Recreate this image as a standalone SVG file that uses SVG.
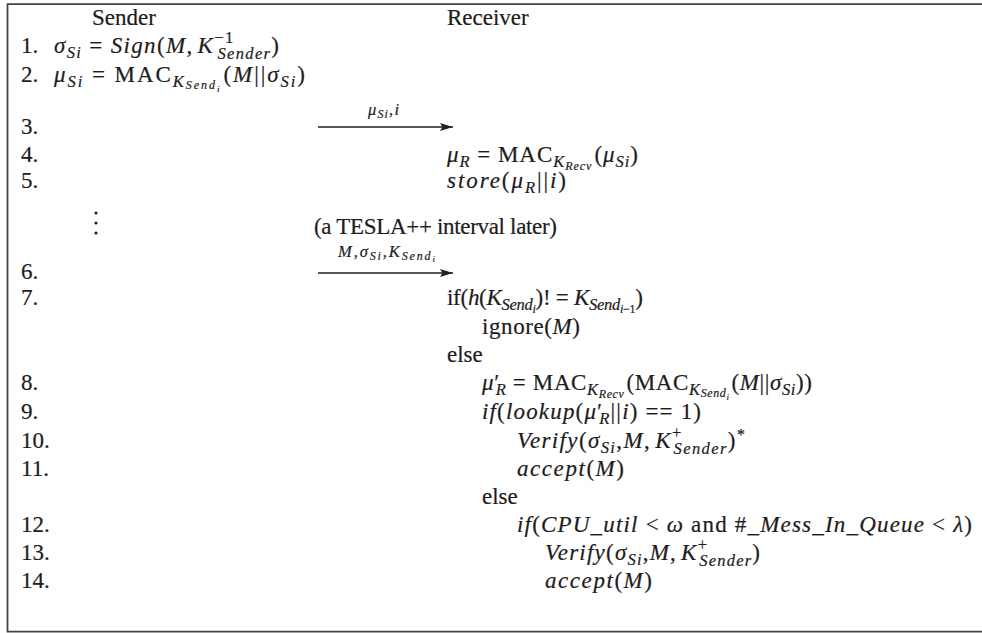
<svg xmlns="http://www.w3.org/2000/svg" width="982" height="633" viewBox="0 0 982 633">
<defs>
<style>
text{font-family:"Liberation Serif","Times New Roman",serif;font-size:23px;fill:#1e1c1d;stroke:#1e1c1d;stroke-width:0.2}
.i{font-style:italic}
.s{font-size:16.5px}
.ss{font-size:12px}
.sss{font-size:9px}
.lbl{font-size:16.5px}
.conn{stroke:#231f20;stroke-width:1.4;fill:none}
</style>
<marker id="ah" markerUnits="userSpaceOnUse" markerWidth="14" markerHeight="10" refX="13" refY="4" orient="auto">
<path d="M0,0 L13,4 L0,8 L2.5,4 Z" fill="#231f20"/>
</marker>
</defs>
<rect width="982" height="633" fill="#ffffff"/>
<path d="M982,4.2 H7.5 V631.7 H982" fill="none" stroke="#444" stroke-width="1.8"/>

<g id="header">
<text x="92" y="25">Sender</text>
<text x="447" y="25">Receiver</text>
</g>

<g id="line-numbers">
<text x="21" y="53">1.</text>
<text x="21" y="82">2.</text>
<text x="21" y="134">3.</text>
<text x="21" y="162">4.</text>
<text x="21" y="188">5.</text>
<text x="21" y="279">6.</text>
<text x="21" y="305">7.</text>
<text x="21" y="390">8.</text>
<text x="21" y="419">9.</text>
<text x="21" y="448">10.</text>
<text x="21" y="476">11.</text>
<text x="21" y="532">12.</text>
<text x="21" y="560">13.</text>
<text x="21" y="588">14.</text>
</g>

<g id="sender-steps">
<text x="54" y="53" textLength="225" lengthAdjust="spacing"><tspan class="i">σ</tspan><tspan class="i s" dy="5">Si</tspan><tspan dy="-5"> = </tspan><tspan class="i">Sign</tspan>(<tspan class="i">M</tspan>,<tspan class="i" dx="4">K</tspan><tspan class="s" dy="-10">−1</tspan><tspan class="i s" dx="-17" dy="16">Sender</tspan><tspan dy="-6">)</tspan></text>
<text x="54" y="82" textLength="251" lengthAdjust="spacing"><tspan class="i">μ</tspan><tspan class="i s" dy="5">Si</tspan><tspan dy="-5"> = MAC</tspan><tspan class="i s" dy="5">K</tspan><tspan class="i ss" dy="2">Send</tspan><tspan class="i sss" dy="3">i</tspan><tspan dy="-10" dx="2">(</tspan><tspan class="i">M</tspan>||<tspan class="i">σ</tspan><tspan class="i s" dy="5">Si</tspan><tspan dy="-5">)</tspan></text>
<g id="ellipsis" fill="#231f20">
<circle cx="96" cy="213" r="1.6"/>
<circle cx="96" cy="223" r="1.6"/>
<circle cx="96" cy="233" r="1.6"/>
</g>
</g>

<g id="connectors">
<line class="conn" x1="318" y1="127" x2="453" y2="127" marker-end="url(#ah)"/>
<text class="lbl" x="368" y="115" textLength="31" lengthAdjust="spacing"><tspan class="i">μ</tspan><tspan class="i ss" dy="3">Si</tspan><tspan dy="-3">,</tspan><tspan class="i">i</tspan></text>
<line class="conn" x1="318" y1="273" x2="453" y2="273" marker-end="url(#ah)"/>
<text class="lbl" x="338" y="257" textLength="97" lengthAdjust="spacing"><tspan class="i">M</tspan>,<tspan class="i">σ</tspan><tspan class="i ss" dy="3">Si</tspan><tspan dy="-3">,</tspan><tspan class="i">K</tspan><tspan class="i ss" dy="3">Send</tspan><tspan class="i sss" dy="2">i</tspan></text>
</g>

<g id="interval-note">
<text x="314" y="234" textLength="243" lengthAdjust="spacing">(a TESLA++ interval later)</text>
</g>

<g id="receiver-steps">
<text x="447" y="162" textLength="191" lengthAdjust="spacing"><tspan class="i">μ</tspan><tspan class="i s" dy="5">R</tspan><tspan dy="-5"> = MAC</tspan><tspan class="i s" dy="5">K</tspan><tspan class="i ss" dy="3">Recv</tspan><tspan dy="-8" dx="2">(</tspan><tspan class="i">μ</tspan><tspan class="i s" dy="5">Si</tspan><tspan dy="-5">)</tspan></text>
<text x="447" y="188" textLength="119" lengthAdjust="spacing"><tspan class="i">store</tspan>(<tspan class="i">μ</tspan><tspan class="i s" dy="5">R</tspan><tspan dy="-5">||</tspan><tspan class="i">i</tspan>)</text>
<text x="447" y="305" textLength="196" lengthAdjust="spacing">if(<tspan class="i">h</tspan>(<tspan class="i">K</tspan><tspan class="i s" dy="5">Send</tspan><tspan class="i ss" dy="3">i</tspan><tspan dy="-8">)! = </tspan><tspan class="i">K</tspan><tspan class="i s" dy="5">Send</tspan><tspan class="i ss" dy="3">i</tspan><tspan class="ss">−1</tspan><tspan dy="-8">)</tspan></text>
<text x="482" y="334" textLength="98" lengthAdjust="spacing">ignore(<tspan class="i">M</tspan>)</text>
<text x="447" y="362">else</text>
<text x="482" y="390" textLength="330" lengthAdjust="spacing"><tspan class="i">μ</tspan><tspan>′</tspan><tspan class="i s" dx="-4" dy="5">R</tspan><tspan dy="-5"> = MAC</tspan><tspan class="i s" dy="5">K</tspan><tspan class="i ss" dy="3">Recv</tspan><tspan dy="-8" dx="2">(MAC</tspan><tspan class="i s" dy="5">K</tspan><tspan class="i ss" dy="2">Send</tspan><tspan class="i sss" dy="3">i</tspan><tspan dy="-10" dx="2">(</tspan><tspan class="i">M</tspan>||<tspan class="i">σ</tspan><tspan class="i s" dy="5">Si</tspan><tspan dy="-5">))</tspan></text>
<text x="482" y="419" textLength="219" lengthAdjust="spacing"><tspan class="i">if</tspan>(<tspan class="i">lookup</tspan>(<tspan class="i">μ</tspan><tspan>′</tspan><tspan class="i s" dx="-4" dy="5">R</tspan><tspan dy="-5">||</tspan><tspan class="i">i</tspan>) == 1)</text>
<text x="517" y="448" textLength="228" lengthAdjust="spacing"><tspan class="i">Verify</tspan>(<tspan class="i">σ</tspan><tspan class="i s" dy="5">Si</tspan><tspan dy="-5">,</tspan><tspan class="i">M</tspan>,<tspan class="i" dx="4">K</tspan><tspan class="s" dy="-10">+</tspan><tspan class="i s" dx="-9" dy="16">Sender</tspan><tspan dy="-6">)</tspan><tspan class="s" dy="-8">*</tspan></text>
<text x="517" y="476" textLength="107" lengthAdjust="spacing"><tspan class="i">accept</tspan>(<tspan class="i">M</tspan>)</text>
<text x="482" y="504">else</text>
<text x="517" y="532" textLength="455" lengthAdjust="spacing"><tspan class="i">if</tspan>(<tspan class="i">CPU</tspan>_<tspan class="i">util</tspan> &lt; <tspan class="i">ω</tspan> and #_<tspan class="i">Mess</tspan>_<tspan class="i">In</tspan>_<tspan class="i">Queue</tspan> &lt; <tspan class="i">λ</tspan>)</text>
<text x="545" y="560" textLength="215" lengthAdjust="spacing"><tspan class="i">Verify</tspan>(<tspan class="i">σ</tspan><tspan class="i s" dy="5">Si</tspan><tspan dy="-5">,</tspan><tspan class="i">M</tspan>,<tspan class="i" dx="4">K</tspan><tspan class="s" dy="-10">+</tspan><tspan class="i s" dx="-9" dy="16">Sender</tspan><tspan dy="-6">)</tspan></text>
<text x="545" y="588" textLength="107" lengthAdjust="spacing"><tspan class="i">accept</tspan>(<tspan class="i">M</tspan>)</text>
</g>
</svg>
